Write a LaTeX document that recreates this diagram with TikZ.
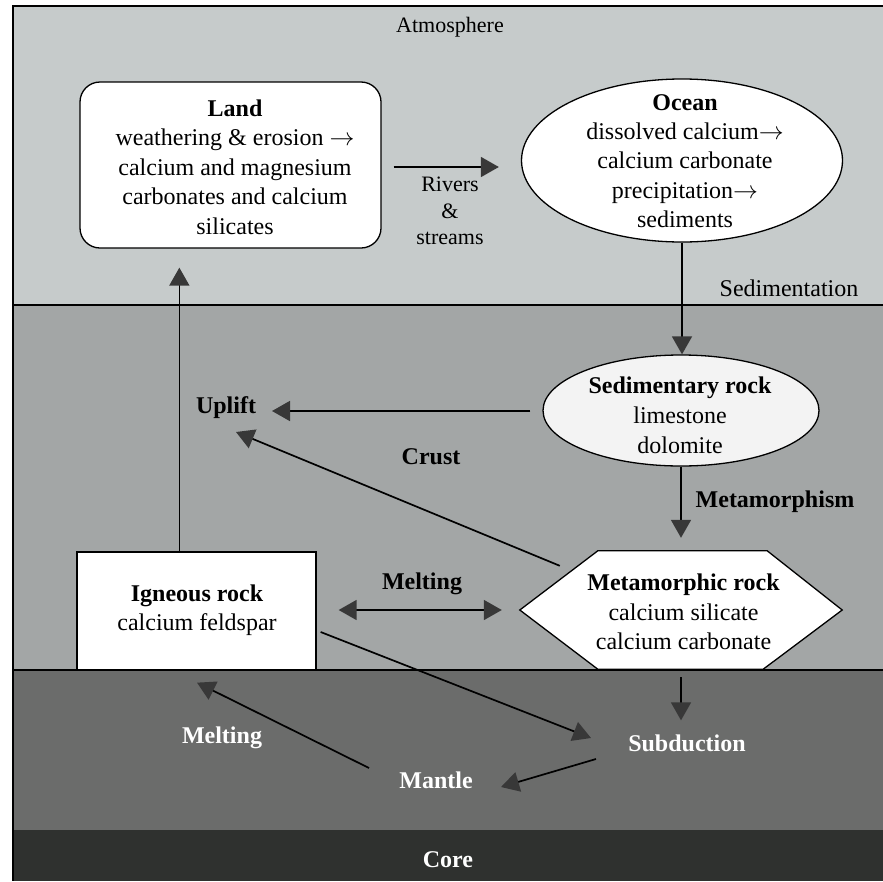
\documentclass[tikz,border=0pt]{standalone}
\usepackage{fontspec}
\setmainfont{Liberation Serif}
\usetikzlibrary{arrows.meta,calc,shapes.geometric}
\definecolor{atm}{HTML}{C6CBCB}
\definecolor{crustc}{HTML}{A3A6A6}
\definecolor{mantlec}{HTML}{6B6C6B}
\definecolor{corec}{HTML}{2F312F}
\definecolor{tipc}{HTML}{383838}
\definecolor{sedfill}{HTML}{F3F3F3}
\tikzset{
  shapebox/.style={draw=black, line width=1.3pt, fill=white, inner sep=0pt},
  txt/.style={align=center, inner sep=0pt, font=\fontsize{24}{29.5}\selectfont},
  lbl/.style={inner sep=1pt, font=\fontsize{24}{28}\selectfont\bfseries},
  plainlbl/.style={inner sep=1pt, align=center, font=\fontsize{22}{26.5}\selectfont},
  wlbl/.style={lbl, text=white},
  tipstyle/.tip={Triangle[length=18pt,width=20pt,color=tipc,fill=tipc]},
  arr/.style={line width=1.7pt, -tipstyle},
  darr/.style={line width=1.7pt, tipstyle-tipstyle},
}
\newcommand{\rarr}{\ensuremath{\rightarrow}}
\begin{document}
\begin{tikzpicture}[x=1pt,y=-1pt]
\useasboundingbox (0,0) rectangle (883,881);
\fill[white] (0,0) rectangle (883,881);
% bands
\fill[atm] (13,6) rectangle (883,305);
\fill[crustc] (13,305) rectangle (883,670);
\fill[mantlec] (13,670) rectangle (883,830);
\fill[corec] (13,830) rectangle (883,881);
\draw[line width=1.4pt] (883,6) -- (13,6) -- (13,881);
\draw[line width=1.3pt] (13,305) -- (883,305);
\draw[line width=1.3pt] (13,670) -- (883,670);

% band labels
\node[plainlbl] (atmos) at (450,27) {Atmosphere};
\node[plainlbl, font=\fontsize{24}{28}\selectfont] (sedim) at (789,288) {Sedimentation};
\node[lbl] (crust) at (431,457) {Crust};
\node[wlbl] (core) at (448,860) {Core};

% Land
\node[shapebox, rounded corners=20pt, minimum width=301pt, minimum height=166pt] (land) at (230.5,165) {};
\node[txt] (landtxt) at (235,167) {\textbf{Land}\\weathering \& erosion \rarr\\calcium and magnesium\\carbonates and calcium\\silicates};

% Ocean
\node[shapebox, ellipse, minimum width=321pt, minimum height=163pt] (ocean) at (682,160.5) {};
\node[txt, font=\fontsize{24}{29.3}\selectfont] (oceantxt) at (685,161) {\textbf{Ocean}\\dissolved calcium\rarr\\calcium carbonate\\precipitation\rarr\\sediments};

% Rivers
\node[plainlbl] (rivers) at (450,211) {Rivers\\\&\\streams};

% Sedimentary rock
\node[shapebox, ellipse, fill=sedfill, minimum width=276pt, minimum height=111pt] (sed) at (681,410.5) {};
\node[txt, font=\fontsize{24}{30}\selectfont] (sedtxt) at (680,415) {\textbf{Sedimentary rock}\\limestone\\dolomite};

% Metamorphic rock (hexagon)
\node[inner sep=0pt, minimum width=322pt, minimum height=118pt] (meta) at (681,610) {};
\draw[line width=1.3pt, fill=white] (meta.west) -- ($(meta.north west)+(78,0)$) -- ($(meta.north east)+(-75,0)$) -- (meta.east) -- ($(meta.south east)+(-79,0)$) -- ($(meta.south west)+(78,0)$) -- cycle;
\node[txt] (metatxt) at (683.5,612) {\textbf{Metamorphic rock}\\calcium silicate\\calcium carbonate};

% Igneous rock
\node[shapebox, minimum width=239pt, minimum height=118pt] (ig) at (196.5,611) {};
\node[txt, font=\fontsize{24}{29}\selectfont] (igtxt) at (197,610.5) {\textbf{Igneous rock}\\calcium feldspar};

% labels
\node[lbl] (uplift) at (226,408) {Uplift};
\node[lbl] (metam) at (775,502) {Metamorphism};
\node[lbl] (meltc) at (422,584) {Melting};
\node[wlbl] (subd) at (687,743) {Subduction};
\node[wlbl] (mantle) at (436,780) {Mantle};
\node[wlbl] (meltm) at (222,738) {Melting};

% connectors
\draw[arr] ($(land.east)+(12,2)$) -- ($(ocean.west)+(-22,6.5)$);
\draw[arr] (ocean.south) -- (ocean.south |- sed.north);
\draw[arr] ($(sed.west)+(-12,0.5)$) -- ($(uplift.center)+(46,3)$);
\draw[arr] ($(meta.north west)+(40,15)$) -- ($(uplift.center)+(10,24)$);
\draw[arr] (sed.south) -- ($(meta.north)+(0,-13)$);
\draw[darr] ($(ig.east)+(22,-1)$) -- ($(meta.west)+(-18,0)$);
\draw[arr] ($(ig.north west)+(103,0)$) -- ($(land.south west)+(100,19)$);
\draw[arr] ($(ig.east)+(4,21)$) -- ($(subd.center)+(-96,-5)$);
\draw[arr] ($(meta.south)+(0,8)$) -- ($(meta.south |- subd.north)+(0,-13)$);
\draw[arr] ($(subd.center)+(-91,16)$) -- ($(mantle.center)+(65,7)$);
\draw[arr] ($(mantle.center)+(-67,-12)$) -- ($(ig.south)+(0.5,12)$);
\end{tikzpicture}
\end{document}
